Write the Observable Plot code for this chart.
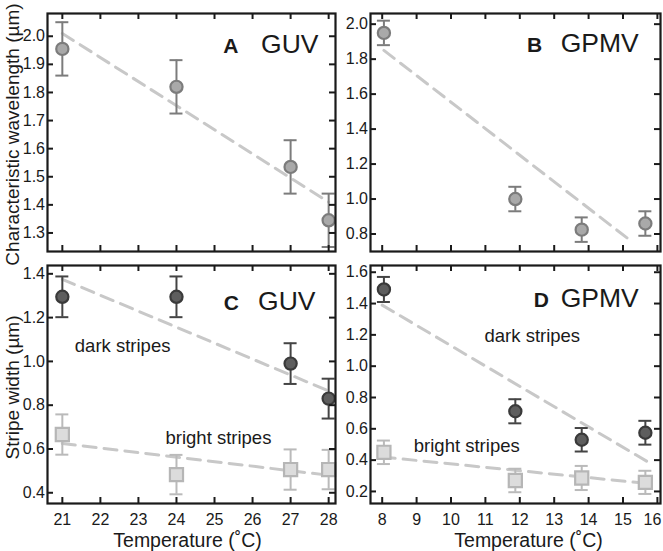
<!DOCTYPE html>
<html><head><meta charset="utf-8">
<script src="https://cdn.jsdelivr.net/npm/d3@7"></script>
<script src="https://cdn.jsdelivr.net/npm/@observablehq/plot@0.6"></script>
<style>
body{margin:0;background:#fff;}
#fig{position:relative;width:663px;height:551px;background:#fff;overflow:hidden;}
.panel{position:absolute;}
</style></head><body><div id="fig"></div>
<script>
// ---- data ----
const tempGUV = [21, 24, 27, 28];
const tempGPMV = [8.05, 11.87, 13.8, 15.65];

const wavelengthGUV = [1.955, 1.82, 1.535, 1.345];
const wavelengthGUVErr = [0.095, 0.095, 0.095, 0.095];
const wavelengthGPMV = [1.95, 1.0, 0.825, 0.86];
const wavelengthGPMVErr = [0.07, 0.07, 0.07, 0.07];

const darkGUV = [1.295, 1.295, 0.99, 0.83];
const darkGUVErr = [0.093, 0.093, 0.093, 0.091];
const brightGUV = [0.666, 0.483, 0.506, 0.506];
const brightGUVErr = [0.092, 0.09, 0.092, 0.09];

const darkGPMV = [1.49, 0.712, 0.53, 0.575];
const darkGPMVErr = [0.08, 0.077, 0.075, 0.076];
const brightGPMV = [0.45, 0.27, 0.286, 0.258];
const brightGPMVErr = [0.075, 0.075, 0.077, 0.074];

// linear fits (end points)
const fitA = {x: [21, 28], y: [2.01, 1.41]};
const fitB = {x: [8.05, 15.3], y: [1.85, 0.75]};
const fitCdark = {x: [21, 28], y: [1.375, 0.865]};
const fitCbright = {x: [21, 28], y: [0.625, 0.48]};
const fitDdark = {x: [8.0, 15.75], y: [1.39, 0.385]};
const fitDbright = {x: [8.0, 15.75], y: [0.42, 0.25]};

const xTicksGUV = [21, 22, 23, 24, 25, 26, 27, 28];
const xTicksGPMV = [8, 9, 10, 11, 12, 13, 14, 15, 16];
const yTicksA = [1.3, 1.4, 1.5, 1.6, 1.7, 1.8, 1.9, 2.0];
const yTicksB = [0.8, 1.0, 1.2, 1.4, 1.6, 1.8, 2.0];
const yTicksC = [0.4, 0.6, 0.8, 1.0, 1.2, 1.4];
const yTicksD = [0.2, 0.4, 0.6, 0.8, 1.0, 1.2, 1.4, 1.6];

const titleWavelength = "Characteristic wavelength (µm)";
const titleStripe = "Stripe width (µm)";
const titleTemp = "Temperature (˚C)";

// ---- styles ----
const FONT = "'Liberation Sans', Arial, Helvetica, sans-serif";
const INK = "#1a1a1a";
const styleMid = {fill: "#a9a9a9", stroke: "#7c7c7c", bar: "#7c7c7c", symbol: "circle", r: 6.1};
const styleDark = {fill: "#5e5e5e", stroke: "#3a3a3a", bar: "#444444", symbol: "circle", r: 6.1};
const styleBright = {fill: "#dcdcdc", stroke: "#b6b6b6", bar: "#bababa", symbol: "square", r: 7.4};

function rows(xs, ys, es) {
  return xs.map((x, i) => ({x, y: ys[i], lo: ys[i] - es[i], hi: ys[i] + es[i]}));
}
function fitRows(f) { return f.x.map((x, i) => ({x, y: f.y[i]})); }

function panel(cfg) {
  const fw = cfg.width - cfg.ml - cfg.mr;
  const fh = cfg.height - cfg.mt - cfg.mb;
  const tk = 6;
  const marks = [];
  for (const f of cfg.fits) {
    marks.push(Plot.line(fitRows(f), {x: "x", y: "y", stroke: "#c8c8c8", strokeWidth: 3, strokeDasharray: "13,8"}));
  }
  for (const s of cfg.series) {
    const d = rows(s.x, s.y, s.err);
    const st = s.style;
    marks.push(Plot.ruleX(d, {x: "x", y1: "lo", y2: "hi", stroke: st.bar, strokeWidth: 2}));
    marks.push(Plot.ruleY(d, {y: "hi", x1: "x", x2: "x", insetLeft: -6.5, insetRight: -6.5, stroke: st.bar, strokeWidth: 2}));
    marks.push(Plot.ruleY(d, {y: "lo", x1: "x", x2: "x", insetLeft: -6.5, insetRight: -6.5, stroke: st.bar, strokeWidth: 2}));
    marks.push(Plot.dot(d, {x: "x", y: "y", r: st.r, symbol: st.symbol, fill: st.fill, stroke: st.stroke, strokeWidth: 2.2}));
  }
  // inward ticks on all four sides
  marks.push(Plot.tickX(cfg.xTicks, {x: d => d, insetTop: fh - tk, stroke: INK, strokeWidth: 2}));
  marks.push(Plot.tickX(cfg.xTicks, {x: d => d, insetBottom: fh - tk, stroke: INK, strokeWidth: 2}));
  marks.push(Plot.tickY(cfg.yTicks, {y: d => d, insetRight: fw - tk, stroke: INK, strokeWidth: 2}));
  marks.push(Plot.tickY(cfg.yTicks, {y: d => d, insetLeft: fw - tk, stroke: INK, strokeWidth: 2}));
  marks.push(Plot.frame({stroke: INK, strokeWidth: 2.2}));
  marks.push(Plot.axisY({ticks: cfg.yTicks, tickSize: 0, tickPadding: 2.5, tickFormat: d3.format(".1f"), fontSize: 16, label: null}));
  if (cfg.xLabels) {
    const n = cfg.xTicks.length;
    const inner = cfg.lastLabelDx ? cfg.xTicks.slice(0, n - 1) : cfg.xTicks;
    marks.push(Plot.axisX({ticks: inner, tickSize: 0, tickPadding: 10, tickFormat: d3.format("d"), fontSize: 16, label: null}));
    if (cfg.lastLabelDx) {
      marks.push(Plot.axisX({ticks: cfg.xTicks.slice(n - 1), tickSize: 0, tickPadding: 10, tickFormat: d3.format("d"), fontSize: 16, label: null, dx: cfg.lastLabelDx}));
    }
    marks.push(Plot.text([titleTemp], {text: d => d, frameAnchor: "bottom", textAnchor: "middle", lineAnchor: "bottom", dy: 43.7, dx: cfg.xTitleDx, fontSize: 19.5, fill: INK}));
  }
  if (cfg.yTitle) {
    marks.push(Plot.text([cfg.yTitle], {text: d => d, frameAnchor: "left", textAnchor: "middle", lineAnchor: "bottom", rotate: -90, dx: -29, dy: cfg.yTitleDy || 0, fontSize: 19, fill: INK}));
  }
  // panel letter and name
  marks.push(Plot.text([cfg.name], {text: d => d, frameAnchor: "top-right", textAnchor: "end", lineAnchor: "bottom", dx: cfg.nameDx, dy: cfg.labelDy, fontSize: 26.5, fill: INK}));
  marks.push(Plot.text([cfg.letter], {text: d => d, frameAnchor: "top-right", textAnchor: "end", lineAnchor: "bottom", dx: cfg.letterDx, dy: cfg.labelDy, fontSize: 21, fontWeight: "bold", fill: INK}));
  for (const a of (cfg.notes || [])) {
    marks.push(Plot.text([a.text], {text: d => d, frameAnchor: "top-left", textAnchor: "start", lineAnchor: "bottom", dx: a.dx, dy: a.dy, fontSize: 18.5, fill: INK}));
  }
  const svg = Plot.plot({
    width: cfg.width, height: cfg.height,
    marginLeft: cfg.ml, marginRight: cfg.mr, marginTop: cfg.mt, marginBottom: cfg.mb,
    x: {type: "linear", domain: cfg.xDomain, axis: cfg.xLabels ? undefined : null},
    y: {type: "linear", domain: cfg.yDomain},
    style: {fontFamily: FONT, color: INK, background: "transparent", overflow: "visible"},
    marks
  });
  const div = document.createElement("div");
  div.className = "panel";
  div.style.left = cfg.left + "px";
  div.style.top = cfg.top + "px";
  div.appendChild(svg);
  document.getElementById("fig").appendChild(div);
}

panel({
  left: 0, top: 0, width: 340, height: 258, ml: 47, mr: 5, mt: 13, mb: 7,
  xDomain: [20.61, 28.18], yDomain: [1.234, 2.081],
  xTicks: xTicksGUV, yTicks: yTicksA, xLabels: false,
  fits: [fitA],
  series: [{x: tempGUV, y: wavelengthGUV, err: wavelengthGUVErr, style: styleMid}],
  letter: "A", name: "GUV", nameDx: -17, letterDx: -97, labelDy: 39.3,
  yTitle: titleWavelength, yTitleDy: 2
});
panel({
  left: 335, top: 0, width: 328, height: 258, ml: 35, mr: 3, mt: 13, mb: 7,
  xDomain: [7.66, 16.09], yDomain: [0.70, 2.061],
  xTicks: xTicksGPMV, yTicks: yTicksB, xLabels: false,
  fits: [fitB],
  series: [{x: tempGPMV, y: wavelengthGPMV, err: wavelengthGPMVErr, style: styleMid}],
  letter: "B", name: "GPMV", nameDx: -21.7, letterDx: -118.3, labelDy: 38.5
});
panel({
  left: 0, top: 258, width: 340, height: 293, ml: 47, mr: 5, mt: 7, mb: 48,
  xDomain: [20.61, 28.18], yDomain: [0.351, 1.438],
  xTicks: xTicksGUV, yTicks: yTicksC, xLabels: true, xTitleDx: -4,
  fits: [fitCdark, fitCbright],
  series: [
    {x: tempGUV, y: darkGUV, err: darkGUVErr, style: styleDark},
    {x: tempGUV, y: brightGUV, err: brightGUVErr, style: styleBright}
  ],
  letter: "C", name: "GUV", nameDx: -20, letterDx: -96.7, labelDy: 44.3,
  notes: [{text: "dark stripes", dx: 27.3, dy: 86.7}, {text: "bright stripes", dx: 118, dy: 178.3}],
  yTitle: titleStripe, yTitleDy: 3
});
panel({
  left: 335, top: 258, width: 328, height: 293, ml: 35, mr: 3, mt: 7, mb: 48,
  xDomain: [7.66, 16.09], yDomain: [0.123, 1.643],
  xTicks: xTicksGPMV, yTicks: yTicksD, xLabels: true, xTitleDx: 13, lastLabelDx: -5,
  fits: [fitDdark, fitDbright],
  series: [
    {x: tempGPMV, y: darkGPMV, err: darkGPMVErr, style: styleDark},
    {x: tempGPMV, y: brightGPMV, err: brightGPMVErr, style: styleBright}
  ],
  letter: "D", name: "GPMV", nameDx: -21.7, letterDx: -111.7, labelDy: 41.7,
  notes: [{text: "dark stripes", dx: 114, dy: 76}, {text: "bright stripes", dx: 43.3, dy: 186.7}]
});
</script></body></html>
